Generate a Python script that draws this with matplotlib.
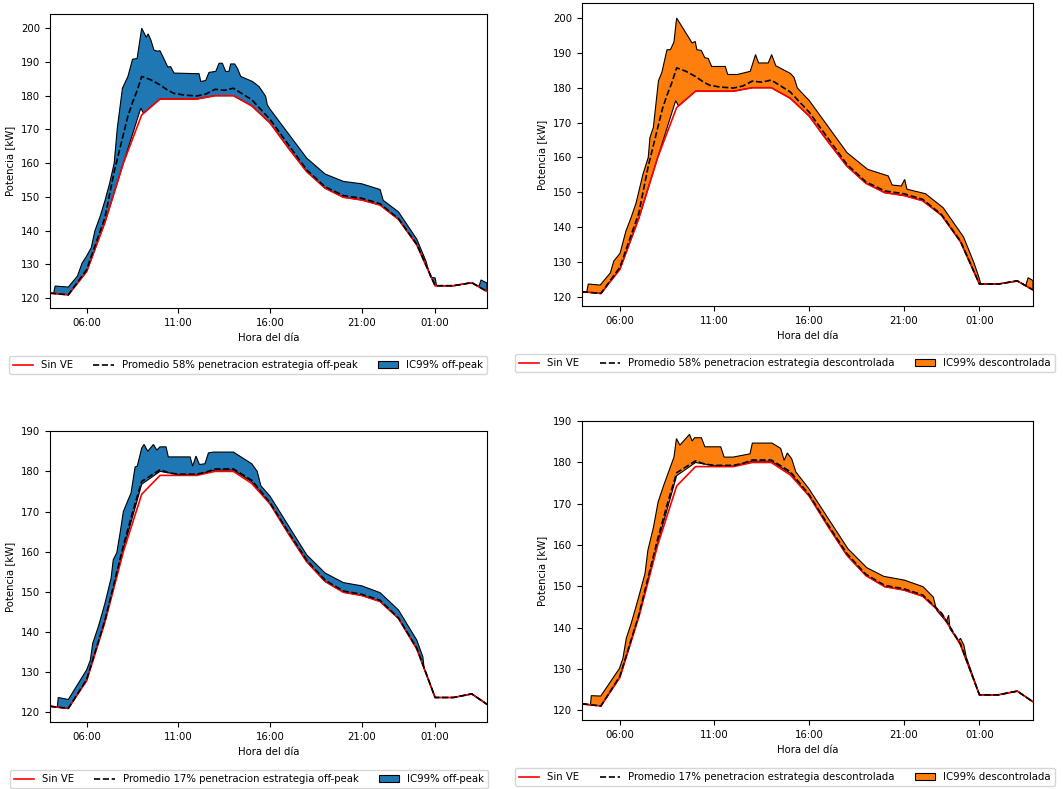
import numpy as np
import matplotlib
matplotlib.use('Agg')
import matplotlib.pyplot as plt
import matplotlib.dates as mdates
from datetime import datetime

plt.rcParams['font.size'] = 7.3

# Hours counted from 04:00 of the first day
red_h = [0, 1, 2, 3, 4, 5, 6, 7, 8, 9, 10, 11, 12, 13, 14, 15, 16, 17, 18, 19, 20, 21, 22, 23, 23.83]
red_v = [121.5, 121.0, 127.9, 142.5, 160.0, 174.3, 179.0, 179.0, 179.0, 180.0, 180.0, 177.0, 171.9,
         164.5, 157.5, 152.6, 149.9, 149.1, 147.6, 143.4, 135.8, 123.7, 123.7, 124.6, 122.0]

# Promedio 58% penetracion
mean58_h = [0, 1, 2, 3, 3.5, 4, 4.25, 4.5, 4.75, 5, 5.25, 5.5, 6, 6.4, 6.75, 7.3, 8, 8.5, 9, 9.5, 10,
            11, 12, 13, 14, 15, 16, 17, 18, 19, 20, 21, 22, 23, 23.83]
mean58_v = [121.5, 121.0, 128.5, 144.0, 157.5, 168.5, 174.0, 178.0, 181.5, 185.7, 185.2, 184.7, 183.2,
            181.7, 180.7, 180.2, 179.9, 180.5, 181.9, 181.6, 182.2, 178.8, 173.0, 165.5, 158.0, 153.0,
            150.4, 149.6, 148.0, 143.6, 136.0, 123.7, 123.7, 124.6, 122.0]

# Promedio 17% penetracion
mean17_h = [0, 1, 2, 3, 4, 4.5, 5, 6, 6.5, 7, 8, 8.5, 9, 10, 11, 12, 13, 14, 15, 16, 17, 18, 19, 20,
            21, 22, 23, 23.83]
mean17_v = [121.5, 121.0, 128.2, 143.0, 161.5, 169.8, 177.5, 180.4, 179.6, 179.3, 179.3, 179.8, 180.6,
            180.6, 177.8, 172.2, 164.9, 157.9, 152.9, 150.2, 149.4, 147.9, 143.5, 136.0, 123.7, 123.7,
            124.6, 122.0]

# IC99% bands, upper bounds
up_tl_h = [0, 0.2, 0.28, 1.0, 1.5, 1.75, 2.0, 2.25, 2.45, 2.75, 3.0, 3.25, 3.5, 3.67, 3.95, 4.25, 4.5,
           4.75, 5.0, 5.25, 5.35, 5.5, 5.67, 5.83, 6.0, 6.25, 6.42, 6.58, 6.76, 8.13, 8.22, 8.49, 8.67,
           9.04, 9.22, 9.4, 9.58, 9.76, 9.85, 10.07, 10.22, 10.4, 11.04, 11.4, 11.76, 11.85, 12.0, 14.0,
           15.0, 16.0, 17.0, 18.0, 18.17, 19.0, 20.0, 20.5, 20.75, 21.0, 21.08, 22.0, 23.0, 23.4,
           23.5, 23.83]
up_tl_v = [121.5, 121.4, 123.6, 123.3, 126.6, 130.4, 132.5, 135.0, 140.0, 144.5, 149.0, 154.0, 160.0,
           170.4, 182.2, 185.7, 190.8, 191.0, 200.0, 197.3, 198.3, 196.5, 193.5, 193.2, 193.3, 190.5,
           188.5, 188.6, 186.7, 186.5, 184.2, 184.5, 186.9, 187.2, 189.6, 189.6, 187.2, 187.2, 189.4,
           189.4, 188.1, 185.7, 184.2, 182.7, 179.8, 177.3, 176.0, 161.5, 156.8, 154.6, 153.9, 152.2,
           149.0, 145.6, 137.5, 131.0, 126.2, 126.0, 123.7, 123.7, 124.6, 123.5, 125.4, 124.5]

up_tr_h = [0, 0.25, 0.33, 0.96, 1.5, 1.68, 2.01, 2.32, 2.59, 2.86, 3.22, 3.5, 3.59, 3.77, 4.04, 4.22,
           4.49, 4.67, 4.86, 5.0, 5.82, 5.98, 6.07, 6.3, 6.49, 6.67, 6.85, 7.57, 7.7, 8.21, 8.89, 9.17,
           9.33, 9.84, 10.02, 10.24, 11.01, 11.2, 11.38, 12.01, 14.0, 15.09, 16.18, 16.39, 16.87, 17.05,
           17.17, 18.15, 19.08, 20.16, 20.71, 20.98, 21.07, 22.0, 23.0, 23.45, 23.57, 23.83]
up_tr_v = [121.4, 121.3, 123.7, 123.4, 126.9, 130.3, 132.5, 138.9, 142.7, 147.0, 155.2, 160.0, 165.7,
           168.6, 182.0, 184.4, 190.9, 190.9, 193.1, 200.0, 192.8, 193.3, 190.9, 190.7, 188.6, 188.4,
           186.1, 186.1, 183.8, 183.8, 184.7, 189.5, 187.1, 187.1, 189.5, 186.3, 184.1, 183.0, 179.9,
           176.3, 161.4, 156.6, 154.7, 152.1, 151.8, 153.7, 150.9, 149.6, 145.6, 137.2, 129.8, 125.5,
           123.7, 123.7, 124.6, 123.3, 125.5, 124.7]

up_bl_h = [0, 0.4, 0.45, 1.0, 2.0, 2.2, 2.33, 2.64, 3.0, 3.33, 3.45, 3.64, 3.82, 4.0, 4.27, 4.42, 4.64,
           4.76, 5.0, 5.13, 5.33, 5.64, 5.82, 6.0, 6.33, 6.45, 7.64, 7.78, 7.96, 8.15, 8.45, 8.64, 8.9,
           10.0, 11.0, 11.3, 11.5, 12.0, 14.0, 15.0, 16.0, 17.0, 18.0, 19.0, 20.0, 20.33, 20.4, 21.0,
           22.0, 23.0, 23.83]
up_bl_v = [121.6, 121.3, 123.7, 123.2, 130.6, 133.0, 137.2, 141.4, 147.2, 153.4, 158.0, 159.7, 164.6,
           170.0, 173.0, 174.6, 181.1, 181.3, 185.8, 186.7, 185.0, 186.7, 185.3, 186.1, 186.1, 183.6,
           183.6, 181.3, 183.8, 181.7, 181.9, 184.6, 184.8, 184.8, 181.9, 180.0, 176.4, 173.8, 159.2,
           154.7, 152.3, 151.5, 149.8, 145.5, 138.0, 133.9, 131.0, 123.7, 123.7, 124.6, 122.0]

up_br_h = [0, 0.45, 0.49, 0.99, 1.98, 2.16, 2.34, 2.6, 2.97, 3.33, 3.48, 3.78, 4.02, 4.32, 4.86, 4.99,
           5.17, 5.68, 5.82, 5.95, 6.31, 6.49, 7.33, 7.51, 7.98, 8.88, 9.0, 10.04, 10.5, 10.68, 10.85,
           11.08, 11.3, 11.98, 14.05, 15.05, 15.95, 17.03, 18.02, 18.56, 18.74, 19.25, 19.37, 19.45,
           19.9, 20.0, 20.18, 20.3, 21.0, 22.0, 23.0, 23.83]
up_br_v = [121.6, 121.3, 123.5, 123.4, 130.1, 132.5, 137.4, 141.0, 147.0, 153.1, 158.7, 164.4, 170.4,
           174.5, 181.3, 185.8, 184.2, 186.8, 185.2, 186.0, 186.0, 183.8, 183.8, 181.3, 181.3, 182.1,
           184.7, 184.7, 183.4, 180.5, 182.3, 180.9, 177.7, 173.7, 159.1, 154.5, 152.4, 151.5, 149.9,
           147.4, 144.2, 141.4, 143.0, 139.6, 136.8, 137.4, 135.7, 132.9, 123.7, 123.7, 124.6, 122.0]

# IC99% bands, lower bounds
lo58_h = [0, 1, 2, 3, 4, 4.95, 5.1, 6, 7, 8, 9, 10, 11, 12, 13, 14, 15, 16, 17, 18, 19, 20, 21, 22,
          23, 23.83]
lo58_v = [121.5, 121.0, 127.9, 142.5, 160.0, 176.3, 174.8, 179.0, 179.0, 179.0, 180.0, 180.0, 177.0,
          171.9, 164.5, 157.5, 152.6, 149.9, 149.1, 147.6, 143.4, 135.8, 123.7, 123.7, 124.6, 122.0]

lo17_h = [0, 1, 2, 3, 4, 5, 6, 7, 8, 9, 10, 11, 12, 13, 14, 15, 16, 17, 18, 19, 20, 21, 22, 23, 23.83]
lo17_v = [121.5, 121.0, 128.0, 142.8, 160.5, 176.8, 180.0, 179.2, 179.1, 180.3, 180.3, 177.4, 171.9,
          164.5, 157.5, 152.6, 149.9, 149.1, 147.6, 143.4, 135.8, 123.7, 123.7, 124.6, 122.0]

base = mdates.date2num(datetime(2023, 1, 1, 4, 0))


def to_dates(hours):
    return base + np.asarray(hours) / 24.0


fig = plt.figure(figsize=(10.63, 7.89), dpi=100)
W, H = 1063.0, 789.0


def make_axes(left, right, top, bottom):
    return fig.add_axes([left / W, 1 - bottom / H, (right - left) / W, (bottom - top) / H])


panels = [
    # axes box (px), y limits, mean series, upper, lower, colour, labels, legend centre x (px)
    ((50, 487, 14, 308), (117.1, 204.2), mean58_h, mean58_v, up_tl_h, up_tl_v, lo58_h, lo58_v,
     '#1f77b4', 'Promedio 58% penetracion estrategia off-peak', 'IC99% off-peak', 248),
    ((582, 1033, 3, 306), (117.4, 204.3), mean58_h, mean58_v, up_tr_h, up_tr_v, lo58_h, lo58_v,
     '#ff7f0e', 'Promedio 58% penetracion estrategia descontrolada', 'IC99% descontrolada', 785),
    ((50, 487, 431, 722), (117.6, 190.05), mean17_h, mean17_v, up_bl_h, up_bl_v, lo17_h, lo17_v,
     '#1f77b4', 'Promedio 17% penetracion estrategia off-peak', 'IC99% off-peak', 249),
    ((582, 1033, 421, 720), (117.6, 190.05), mean17_h, mean17_v, up_br_h, up_br_v, lo17_h, lo17_v,
     '#ff7f0e', 'Promedio 17% penetracion estrategia descontrolada', 'IC99% descontrolada', 785),
]

for box, ylim, m_h, m_v, u_h, u_v, l_h, l_v, color, mean_label, ic_label, leg_x in panels:
    ax = make_axes(*box)

    # Sin VE baseline
    ax.plot(to_dates(red_h), red_v, color='red', lw=1.2, label='Sin VE', zorder=3)

    # Average profile
    ax.plot(to_dates(m_h), m_v, color='black', ls='--', lw=1.2, label=mean_label, zorder=4)

    # Confidence band as a closed polygon (upper then lower reversed)
    xs = np.concatenate([to_dates(u_h), to_dates(l_h)[::-1]])
    ys = np.concatenate([u_v, l_v[::-1]])
    ax.fill(xs, ys, facecolor=color, edgecolor='black', lw=0.8, label=ic_label, zorder=2)

    ax.set_xlim(to_dates([0])[0], to_dates([23.83])[0])
    ax.set_ylim(*ylim)
    ax.xaxis.set_major_locator(mdates.HourLocator(byhour=[1, 6, 11, 16, 21]))
    ax.xaxis.set_major_formatter(mdates.DateFormatter('%H:%M'))

    ax.set_xlabel('Hora del día')
    ax.set_ylabel('Potencia [kW]')

    ax.legend(loc='upper center', ncol=3, borderaxespad=0,
              bbox_to_anchor=(leg_x / W, 1 - (box[3] + 48) / H),
              bbox_transform=fig.transFigure)

plt.savefig('out.png', dpi=100)
